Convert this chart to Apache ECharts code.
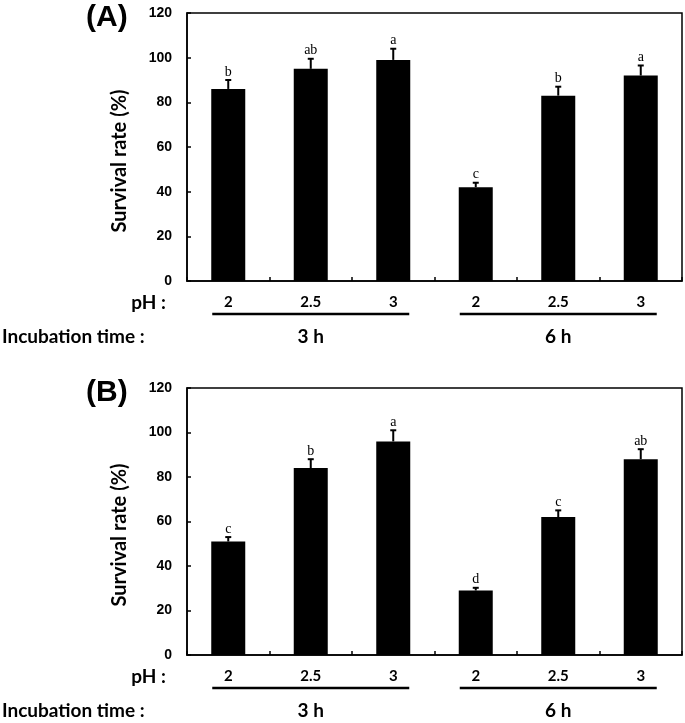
<!DOCTYPE html>
<html>
<head>
<meta charset="utf-8">
<script src="https://cdn.jsdelivr.net/npm/echarts@6/dist/echarts.min.js"></script>
<style>
html,body{margin:0;padding:0;background:#fff;}
#chart{width:685px;height:723px;}
</style>
</head>
<body>
<div id="chart"></div>
<script>
// ---- data ----
var phLabels = ['2', '2.5', '3', '2', '2.5', '3'];
var timeGroups = ['3 h', '6 h'];
var panelTitles = ['(A)', '(B)'];
var yTicks = [0, 20, 40, 60, 80, 100, 120];

var survivalA = [86, 95, 99, 42, 83, 92];
var errorA = [4, 4.5, 5, 2, 4, 4.5];
var lettersA = ['b', 'ab', 'a', 'c', 'b', 'a'];

var survivalB = [51, 84, 96, 29, 62, 88];
var errorB = [2, 4, 5, 1.2, 3, 4.5];
var lettersB = ['c', 'b', 'a', 'd', 'c', 'ab'];

// ---- chart ----
var chart = echarts.init(document.getElementById('chart'), null, {renderer: 'canvas'});

var grids = [
  {left: 187, top: 13, width: 495, height: 268},
  {left: 187, top: 388, width: 495, height: 267}
];

function makeXAxis(i) {
  return {
    type: 'category', gridIndex: i, data: phLabels,
    axisLine: {show: true, lineStyle: {color: '#000', width: 1.5}},
    axisTick: {show: true, inside: true, length: 4, alignWithLabel: false, interval: 0, lineStyle: {color: '#000', width: 1.5}},
    axisLabel: {show: true, interval: 0, margin: 14, color: '#000', fontFamily: 'Lato', fontWeight: 'bold', fontSize: 15},
    splitLine: {show: false}
  };
}
function makeYAxis(i) {
  return {
    type: 'value', gridIndex: i, min: yTicks[0], max: yTicks[yTicks.length - 1], interval: 20,
    axisLine: {show: true, lineStyle: {color: '#000', width: 1.5}},
    axisTick: {show: true, inside: true, length: 4, lineStyle: {color: '#000', width: 1.5}},
    axisLabel: {show: true, margin: 15, color: '#000', fontFamily: 'Liberation Sans', fontWeight: 'bold', fontSize: 14},
    splitLine: {show: false}
  };
}

function errData(vals, errs, letters) {
  return vals.map(function (v, k) { return [k, v, errs[k], letters[k]]; });
}

function errRender(params, api) {
  var x = api.value(0), v = api.value(1), e = api.value(2);
  var letter = api.value(3);
  var base = api.coord([x, v]);
  var top = api.coord([x, v + e]);
  var cap = 3;
  return {
    type: 'group',
    children: [
      {type: 'line', shape: {x1: base[0], y1: base[1], x2: top[0], y2: top[1]}, style: {stroke: '#000', lineWidth: 2}},
      {type: 'line', shape: {x1: top[0] - cap, y1: top[1], x2: top[0] + cap, y2: top[1]}, style: {stroke: '#000', lineWidth: 2}},
      {type: 'text', x: top[0], y: top[1] - 1, style: {text: letter, fill: '#000', font: '14px "Liberation Serif"', align: 'center', verticalAlign: 'bottom'}}
    ]
  };
}

var option = {
  backgroundColor: '#fff',
  animation: false,
  grid: grids.map(function (g) {
    return {left: g.left, top: g.top, width: g.width, height: g.height, show: true, borderColor: '#000', borderWidth: 1.5, backgroundColor: 'transparent'};
  }),
  xAxis: [makeXAxis(0), makeXAxis(1)],
  yAxis: [makeYAxis(0), makeYAxis(1)],
  series: [
    {type: 'bar', xAxisIndex: 0, yAxisIndex: 0, data: survivalA, barWidth: 34, itemStyle: {color: '#000'}},
    {type: 'bar', xAxisIndex: 1, yAxisIndex: 1, data: survivalB, barWidth: 34, itemStyle: {color: '#000'}},
    {type: 'custom', xAxisIndex: 0, yAxisIndex: 0, renderItem: errRender, data: errData(survivalA, errorA, lettersA), z: 5,
      encode: {x: 0, y: 1}},
    {type: 'custom', xAxisIndex: 1, yAxisIndex: 1, renderItem: errRender, data: errData(survivalB, errorB, lettersB), z: 5,
      encode: {x: 0, y: 1}}
  ]
};
chart.setOption(option);

// annotations under each panel, positioned from the axes
var graphics = [];
[0, 1].forEach(function (gi) {
  var finder = {xAxisIndex: gi, yAxisIndex: gi};
  var p0 = chart.convertToPixel(finder, [0, 0]);
  var axisY = p0[1];
  var lblFont = 'bold 19px Lato';
  graphics.push({type: 'text', left: 86, top: grids[gi].top - 10,
    style: {text: panelTitles[gi], font: 'bold 30px "Liberation Sans"', fill: '#000'}});
  graphics.push({type: 'text', x: 120, y: axisY - 120, rotation: Math.PI / 2,
    style: {text: 'Survival rate (%)', font: 'bold 20px Lato', fill: '#000', align: 'center', verticalAlign: 'middle'}});
  graphics.push({type: 'text', x: 166, y: axisY + 22,
    style: {text: 'pH :', font: lblFont, fill: '#000', align: 'right', verticalAlign: 'middle'}});
  graphics.push({type: 'text', x: 2, y: axisY + 56,
    style: {text: 'Incubation time :', font: lblFont, fill: '#000', align: 'left', verticalAlign: 'middle'}});
  timeGroups.forEach(function (g, k) {
    var a = chart.convertToPixel(finder, [k * 3, 0])[0];
    var m = chart.convertToPixel(finder, [k * 3 + 1, 0])[0];
    var b = chart.convertToPixel(finder, [k * 3 + 2, 0])[0];
    graphics.push({type: 'line', shape: {x1: a - 16, y1: axisY + 33, x2: b + 16, y2: axisY + 33},
      style: {stroke: '#000', lineWidth: 2.5}});
    graphics.push({type: 'text', x: m, y: axisY + 56,
      style: {text: g, font: lblFont, fill: '#000', align: 'center', verticalAlign: 'middle'}});
  });
});
chart.setOption({graphic: graphics});
</script>
</body>
</html>
